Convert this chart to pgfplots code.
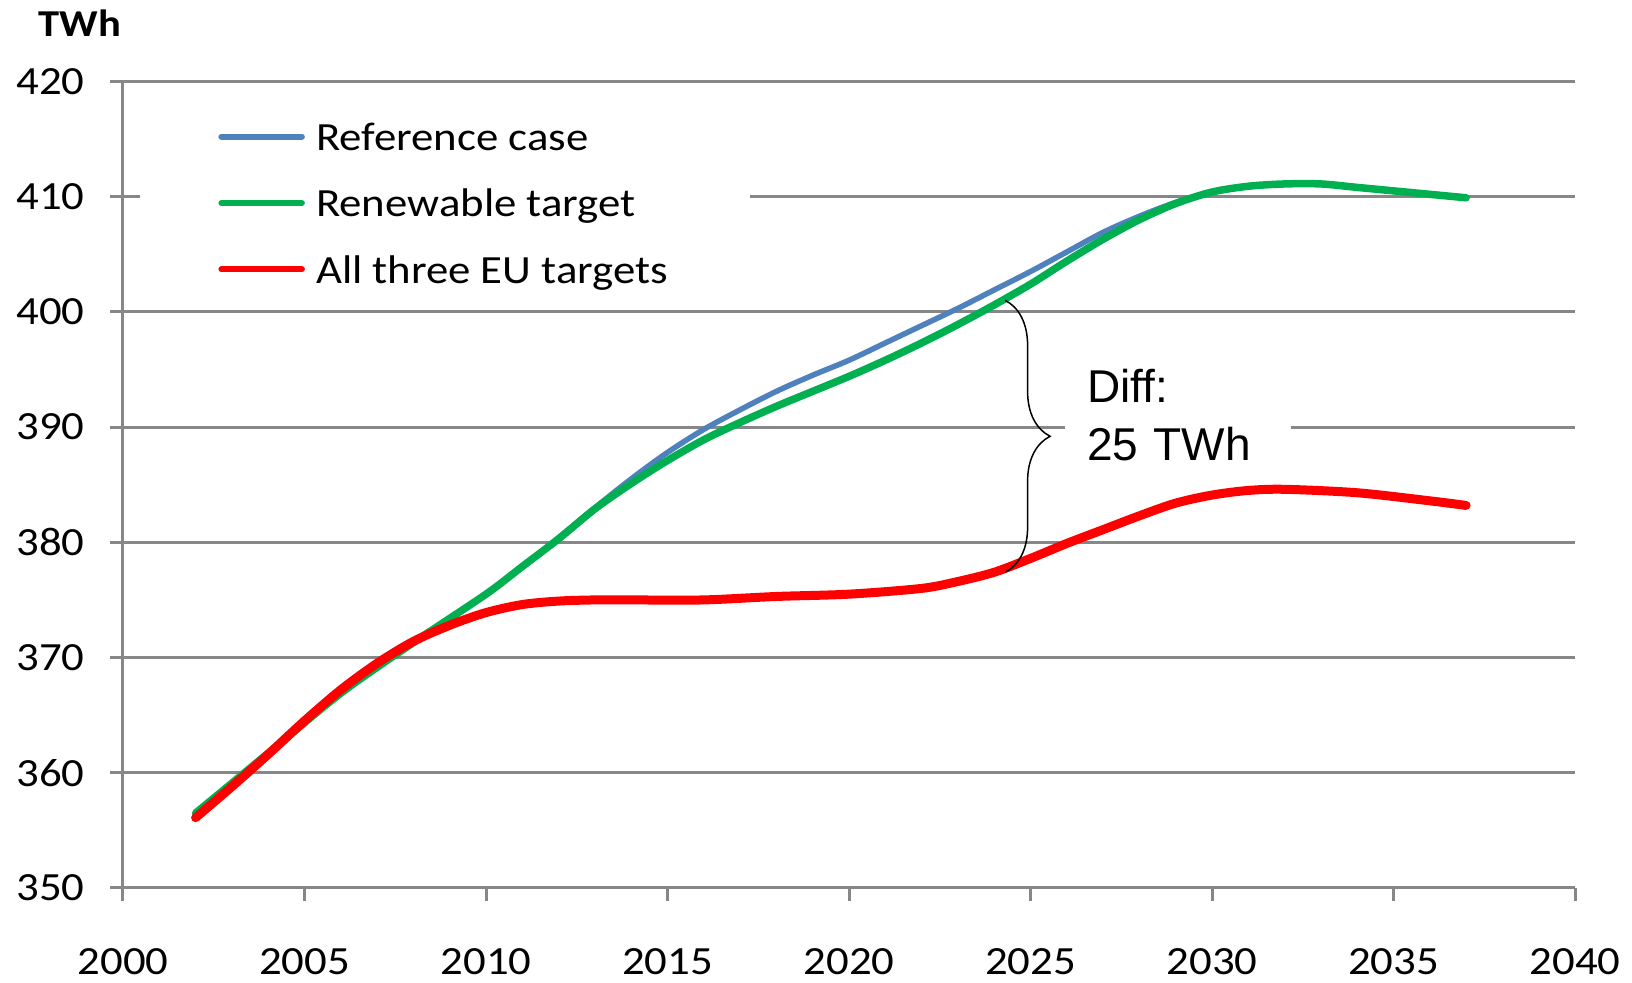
\documentclass[border=0pt]{standalone}
\usepackage{fontspec}
\setmainfont{Carlito}[FakeStretch=1.12]
\newfontfamily\arialfont{Liberation Sans}
\usepackage{pgfplots}
\pgfplotsset{compat=1.18}
\usetikzlibrary{decorations.pathreplacing}
\definecolor{refblue}{HTML}{4F81BD}
\definecolor{rengreen}{HTML}{00B050}
\definecolor{eured}{HTML}{FF0000}
\definecolor{gridgray}{HTML}{878787}

\begin{document}
\begin{tikzpicture}
\useasboundingbox (-61.5pt,-47.5pt) rectangle (754.5pt,444pt);
\begin{axis}[
    name=ax, at={(0,0)}, anchor=south west,
    scale only axis, width=726pt, height=403.3pt,
    xmin=2000, xmax=2040, ymin=350, ymax=420,
    xtick={2000,2005,...,2040}, ytick={350,360,...,420},
    axis x line*=bottom, axis y line*=left,
    axis line style={gridgray, line width=1.5pt, -},
    ymajorgrids, grid style={gridgray, line width=1.5pt},
    tick align=outside, major tick length=6.5pt,
    tick style={gridgray, line width=1.5pt},
    /pgf/number format/1000 sep={},
    /pgf/number format/assume math mode=true,
    tick label style={font=\fontsize{20}{24}\selectfont, inner sep=0pt},
    xticklabel style={anchor=base, yshift=-37pt},
    yticklabel style={anchor=east, xshift=-12.5pt},
    legend style={at={(0,1)}, anchor=north west, xshift=8.5pt, yshift=-9pt,
        draw=none, fill=white, inner xsep=39pt, inner ysep=0pt, row sep=4.2pt,
        font=\fontsize{20}{33.5}\selectfont,
        /tikz/every odd column/.style={column sep=3.6pt}},
    legend cell align=left,
    legend image code/.code={\draw[#1, line width=3pt, line cap=round] (1.5pt,-4pt) -- (41.75pt,-4pt);},
]
% Reference case
\addplot[refblue, line width=2.75pt, smooth, line cap=round] coordinates {
    (2002,356.5) (2004,361.7) (2006,366.9) (2008,371.3) (2010,375.5) (2011,377.9)
    (2012,380.4) (2013,383.0) (2014,385.5) (2015,387.8) (2016,389.8) (2017,391.5)
    (2018,393.1) (2019,394.5) (2020,395.8) (2021,397.3) (2022,398.8) (2023,400.3)
    (2024,401.9) (2025,403.5) (2026,405.2) (2027,406.9) (2028,408.3) (2029,409.5)
    (2030,410.4) (2031,410.9) (2032,411.1) (2033,411.1) (2034,410.8) (2035,410.5)
    (2036,410.2) (2037,409.9)
};
\addlegendentry{\strut Reference case}
% Renewable target
\addplot[rengreen, line width=3.75pt, smooth, line cap=round] coordinates {
    (2002,356.5) (2004,361.7) (2006,366.9) (2008,371.3) (2010,375.5) (2011,377.9)
    (2012,380.3) (2013,382.9) (2014,385.1) (2015,387.1) (2016,388.9) (2017,390.4)
    (2018,391.8) (2019,393.1) (2020,394.4) (2021,395.8) (2022,397.3) (2023,398.9)
    (2024,400.6) (2025,402.4) (2026,404.4) (2027,406.3) (2028,408.0) (2029,409.4)
    (2030,410.4) (2031,410.9) (2032,411.1) (2033,411.1) (2034,410.8) (2035,410.5)
    (2036,410.2) (2037,409.9)
};
\addlegendentry{\strut Renewable target}
% All three EU targets
\addplot[eured, line width=4.5pt, smooth, line cap=round] coordinates {
    (2002,356.1) (2003,358.8) (2004,361.6) (2005,364.5) (2006,367.2) (2007,369.5)
    (2008,371.4) (2009,372.8) (2010,373.9) (2011,374.6) (2012,374.9) (2013,375.0)
    (2014,375.0) (2016,375.0) (2018,375.3) (2020,375.5) (2022,376.0) (2023,376.6)
    (2024,377.4) (2025,378.6) (2026,379.9) (2027,381.1) (2028,382.3) (2029,383.4)
    (2030,384.1) (2031,384.5) (2032,384.6) (2034,384.3) (2036,383.6) (2037,383.2)
};
\addlegendentry{\strut All three EU targets}
\draw[decorate, decoration={brace, amplitude=22.5pt}, line width=0.75pt]
    (axis cs:2024.3,401.0) -- (axis cs:2024.3,377.4);
\node[fill=white, inner xsep=11pt, inner ysep=3pt, anchor=west, align=left, text width=91pt,
    font=\arialfont\fontsize{23}{29}\selectfont] at (axis cs:2025.95,391.0) {Diff:\\\mbox{25 TWh}};
\end{axis}
\node[anchor=base west, inner sep=0pt, font=\bfseries\fontsize{19}{22}\selectfont]
    at ([xshift=-42.5pt, yshift=22.2pt]ax.north west) {TWh};
\end{tikzpicture}
\end{document}
